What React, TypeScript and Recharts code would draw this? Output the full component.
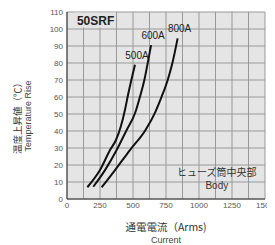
import { LineChart, Line, XAxis, YAxis, CartesianGrid, ReferenceDot, Label } from 'recharts'

// tick every 125 A so the grid gets a line there; only multiples of 250 carry a label
const CURRENT_TICKS = [0, 125, 250, 375, 500, 625, 750, 875, 1000, 1125, 1250, 1375, 1500]
const TEMP_TICKS = [0, 10, 20, 30, 40, 50, 60, 70, 80, 90, 100, 110]

// current (Arms) vs temperature rise (deg C)
const current500 = [154, 250, 326, 371, 407, 439, 465, 515]
const temp500 = [6.9, 17, 28.8, 34.7, 42.5, 52.4, 62.2, 79]
const current600 = [199, 288, 376, 452, 518, 553, 586, 611, 637]
const temp600 = [7.2, 17, 28.8, 40.6, 51, 60.2, 70, 79.8, 90.5]
const current800 = [263, 364, 477, 595, 668, 717, 763, 798, 838]
const temp800 = [6.9, 17, 28.8, 40.6, 51, 60.2, 70, 79.8, 94.5]

const SERIES = [
  { key: 't500', name: '500A', current: current500, temp: temp500 },
  { key: 't600', name: '600A', current: current600, temp: temp600 },
  { key: 't800', name: '800A', current: current800, temp: temp800 },
]

// one table for the chart: a row per current value, each series filled where it has a point
const rows: any[] = []
SERIES.forEach(s => {
  s.current.forEach((c, i) => {
    let row = rows.find(r => r.current === c)
    if (!row) {
      row = { current: c }
      rows.push(row)
    }
    row[s.key] = s.temp[i]
  })
})
rows.sort((a, b) => a.current - b.current)

const FONT = '"Liberation Sans", "Noto Sans CJK JP", sans-serif'
const JP = '"Noto Sans CJK JP", "Liberation Sans", sans-serif'
const BG = '#e4e4e4'
const GRID = '#999'

const endLabel = (name: string, key: string) => (props: any) => {
  const last = rows.reduce((m, r, i) => (r[key] != null ? i : m), -1)
  if (props.index !== last) return null
  return (
    <text key={name} x={props.x + 2} y={props.y - 6} textAnchor="middle" fontSize={10} fill="#222" fontFamily={FONT}>
      {name}
    </text>
  )
}

export default function App() {
  return (
    <div style={{ width: 267, height: 237, fontFamily: FONT }}>
      <LineChart width={267} height={237} data={rows} margin={{ top: 4, right: 10, left: 30, bottom: 26 }}>
        {/* translucent fill: the grey shows, and the grid lines show through it */}
        <CartesianGrid fill="#a8a8a8" fillOpacity={0.3} stroke={GRID} strokeWidth={1} />
        <XAxis
          type="number"
          dataKey="current"
          domain={[0, 1500]}
          ticks={CURRENT_TICKS}
          interval={0}
          tickFormatter={(v: number) => (v % 250 === 0 ? String(v) : '')}
          stroke="#333"
          tickSize={0}
          tickMargin={3}
          height={20}
          tick={{ fontSize: 8, fill: '#555', fontFamily: FONT }}
        >
          <Label
            content={(p: any) => {
              const vb = p.viewBox
              const cx = vb.x + vb.width / 2
              return (
                <g>
                  <text x={cx} y={vb.y + 32} textAnchor="middle" fontSize={10.5} fill="#333" fontFamily={JP}>
                    通電電流（Arms)
                  </text>
                  <text x={cx} y={vb.y + 44} textAnchor="middle" fontSize={9} fill="#444" fontFamily={FONT}>
                    Current
                  </text>
                </g>
              )
            }}
          />
        </XAxis>
        <XAxis xAxisId="top" orientation="top" type="number" domain={[0, 1500]} height={0} tick={false} tickLine={false} stroke="#333" />
        <YAxis
          type="number"
          domain={[0, 110]}
          ticks={TEMP_TICKS}
          interval={0}
          stroke="#333"
          tickSize={0}
          tickMargin={4}
          width={29}
          tick={{ fontSize: 8, fill: '#555', fontFamily: FONT }}
        >
          <Label
            content={() => {
              const cy = 108
              return (
                <g>
                  <text x={10} y={cy} transform={`rotate(-90 10 ${cy})`} textAnchor="middle" dominantBaseline="middle" fontSize={9.5} fill="#333" fontFamily={JP}>
                    温度上昇値（℃）
                  </text>
                  <text x={21} y={cy} transform={`rotate(-90 21 ${cy})`} textAnchor="middle" dominantBaseline="middle" fontSize={9} fill="#444" fontFamily={FONT}>
                    Temperature Rise
                  </text>
                </g>
              )
            }}
          />
        </YAxis>
        <YAxis yAxisId="right" orientation="right" type="number" domain={[0, 110]} width={0} tick={false} tickLine={false} stroke="#333" />
        <ReferenceDot
          x={75}
          y={105}
          r={0}
          label={(p: any) => {
            const vb = p.viewBox
            return (
              <g>
                <rect x={vb.x - 3} y={vb.y - 8} width={42} height={15} fill={BG} />
                <text x={vb.x} y={vb.y + 4} fontSize={12} fontWeight="bold" fill="#222" fontFamily={FONT}>
                  50SRF
                </text>
              </g>
            )
          }}
        />
        <ReferenceDot
          x={1135}
          y={15}
          r={0}
          label={(p: any) => {
            const vb = p.viewBox
            return (
              <g>
                <text x={vb.x} y={vb.y} textAnchor="middle" dominantBaseline="middle" fontSize={10} fill="#333" fontFamily={JP}>
                  ヒューズ筒中央部
                </text>
                <text x={vb.x} y={vb.y + 13} textAnchor="middle" dominantBaseline="middle" fontSize={10} fill="#333" fontFamily={FONT}>
                  Body
                </text>
              </g>
            )
          }}
        />
        {SERIES.map(s => (
          <Line
            key={s.key}
            dataKey={s.key}
            type="monotone"
            connectNulls
            stroke="#111"
            strokeWidth={2}
            dot={false}
            isAnimationActive={false}
            label={endLabel(s.name, s.key)}
          />
        ))}
      </LineChart>
    </div>
  )
}
